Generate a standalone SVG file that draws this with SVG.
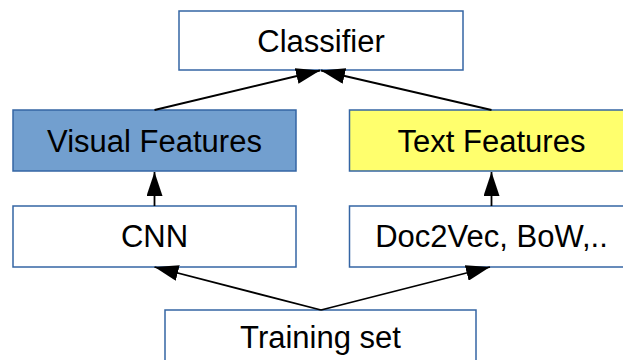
<svg xmlns="http://www.w3.org/2000/svg" width="623" height="360" viewBox="0 0 623 360">
  <style>
    .box { stroke: #3465a4; stroke-width: 1.5; fill: #ffffff; }
    .visual { fill: #729fcf; }
    .textf { fill: #ffff6d; }
    .label { font-family: "Liberation Sans", Arial, sans-serif; font-size: 31px; fill: #000000; text-anchor: middle; }
    .edge { stroke: #000000; stroke-width: 1.8; fill: none; marker-end: url(#arrow); }
  </style>
  <defs>
    <marker id="arrow" markerUnits="userSpaceOnUse" markerWidth="24" markerHeight="16" refX="24" refY="8" orient="auto">
      <path d="M0,0 L24,8 L0,16 z" fill="#000000"/>
    </marker>
  </defs>
  <rect width="623" height="360" fill="#ffffff"/>

  <g id="classifier">
    <rect class="box" x="179" y="11" width="284" height="59"/>
    <text class="label" x="321" y="52">Classifier</text>
  </g>
  <g id="visual-features">
    <rect class="box visual" x="13" y="110" width="283" height="61"/>
    <text class="label" x="154.5" y="151.5">Visual Features</text>
  </g>
  <g id="text-features">
    <rect class="box textf" x="349.5" y="110" width="284" height="61"/>
    <text class="label" x="491.5" y="151.5">Text Features</text>
  </g>
  <g id="cnn">
    <rect class="box" x="13" y="206" width="283" height="61"/>
    <text class="label" x="154.5" y="246.5">CNN</text>
  </g>
  <g id="doc2vec">
    <rect class="box" x="349.5" y="206" width="284" height="61"/>
    <text class="label" x="491.5" y="246.5">Doc2Vec, BoW,..</text>
  </g>
  <g id="training-set">
    <rect class="box" x="165" y="310" width="311" height="70"/>
    <text class="label" x="320.5" y="347.5">Training set</text>
  </g>

  <g id="connectors">
    <line class="edge" x1="154.5" y1="110" x2="320" y2="70.5"/>
    <line class="edge" x1="491.5" y1="110" x2="321" y2="70.5"/>
    <line class="edge" x1="154.5" y1="206" x2="154.5" y2="172"/>
    <line class="edge" x1="491.5" y1="206" x2="491.5" y2="172"/>
    <line class="edge" x1="321" y1="310" x2="154.5" y2="267"/>
    <line class="edge" x1="321" y1="310" x2="490" y2="267"/>
  </g>
</svg>
